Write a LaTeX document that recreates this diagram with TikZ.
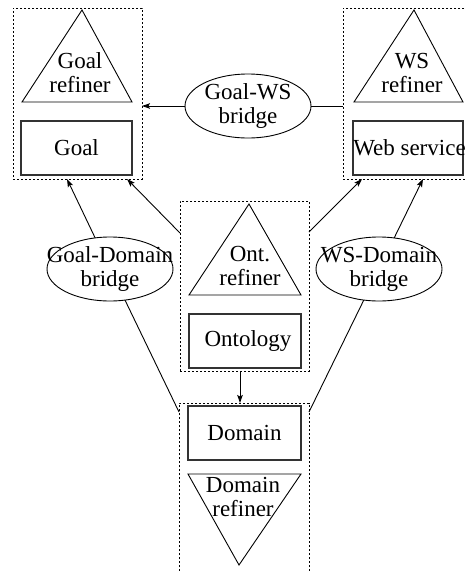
\documentclass[tikz,border=0pt]{standalone}
\usepackage{fontspec}
\setmainfont{Liberation Serif}
\usetikzlibrary{arrows.meta,shapes.geometric}
\begin{document}
\begin{tikzpicture}[x=1pt,y=-1pt,
  every node/.style={font=\fontsize{23}{24}\selectfont, inner sep=0pt, outer sep=0pt},
  grp/.style={draw, dash pattern=on 2.4pt off 1.6pt, line width=0.8pt},
  box/.style={draw=black!80, line width=1.2pt},
  tri/.style={draw, line width=0.9pt, line join=miter},
  bridge/.style={draw, ellipse, line width=0.9pt, minimum width=126pt, minimum height=64pt},
  conn/.style={line width=0.9pt},
  arr/.style={conn, -{Stealth[length=8pt,width=5.5pt,inset=1.5pt]}},
  lbl/.style={align=center}]
\useasboundingbox (0,0) rectangle (465,571);

% ---- groups (dashed frames) ----
\node[grp, minimum width=129pt, minimum height=171pt] (goalgrp) at (77.5,93.5) {};
\node[grp, minimum width=127pt, minimum height=171pt] (wsgrp) at (406.5,93.5) {};
\node[grp, minimum width=129pt, minimum height=170pt] (ontgrp) at (244.5,286) {};
\draw[grp] (179,575) -- (179,403) coordinate (domtl) -- (309,403) coordinate (domtr) -- (309,575);

% ---- Goal ----
\draw[tri] (82,10) -- (132,102) -- (22,102) -- cycle;
\node[lbl] (goalref) at (80,73) {Goal\\refiner};
\node[box, minimum width=111pt, minimum height=54pt] (goal) at (76.5,148) {};
\node (goaltxt) at (goal.center) {Goal};

% ---- Web service ----
\draw[tri] (414,10) -- (463,102) -- (354,102) -- cycle;
\node[lbl] (wsref) at (412,73) {WS\\refiner};
\node[box, minimum width=110pt, minimum height=54pt] (ws) at (408,148) {};
\node (wstxt) at (409.5,148) {Web service};

% ---- Ontology ----
\draw[tri] (249,204) -- (301,295) -- (189,295) -- cycle;
\node[lbl] (ontref) at (250,266) {Ont.\\refiner};
\node[box, minimum width=112pt, minimum height=54pt] (ont) at (245,341) {};
\node (onttxt) at (248,341) {Ontology};

% ---- Domain ----
\node[box, minimum width=113pt, minimum height=54pt] (dom) at (244.5,433) {};
\node (domtxt) at (dom.center) {Domain};
\draw[tri] (188,474) -- (301,474) -- (239,565) -- cycle;
\node[lbl] (domref) at (243,497) {Domain\\refiner};

% ---- bridges (fixed-size ellipses, text set on top) ----
\node[bridge] (gwsb) at (248,106) {};
\node[lbl] (gwsbtxt) at (gwsb.center) {Goal-WS\\bridge};
\node[bridge] (gdb) at (110,269) {};
\node[lbl] (gdbtxt) at (gdb.center) {Goal-Domain\\bridge};
\node[bridge] (wdb) at (379,269) {};
\node[lbl] (wdbtxt) at (wdb.center) {WS-Domain\\bridge};

% ---- attachment points on the frames ----
\coordinate (goalB1) at (67,179);
\coordinate (goalB2) at (127,179);
\coordinate (wsB1) at (362,179);
\coordinate (wsB2) at (423,179);
\coordinate (ontL) at (180,233);
\coordinate (ontR) at (309,232);
\coordinate (ontB) at (240,371);
\coordinate (domT) at (240,403);
\coordinate (domL) at (179,412);
\coordinate (domR) at (309,412);

% ---- connectors ----
\draw[arr] (gwsb.west) -- (gwsb.west -| goalgrp.east);
\draw[conn] (gwsb.east) -- (gwsb.east -| wsgrp.west);
\draw[arr] (gdb) -- (goalB1);
\draw[conn] (gdb) -- (domL);
\draw[arr] (wdb) -- (wsB2);
\draw[conn] (wdb) -- (domR);
\draw[arr] (ontL) -- (goalB2);
\draw[arr] (ontR) -- (wsB1);
\draw[arr] (ontB) -- (domT);
\end{tikzpicture}
\end{document}
